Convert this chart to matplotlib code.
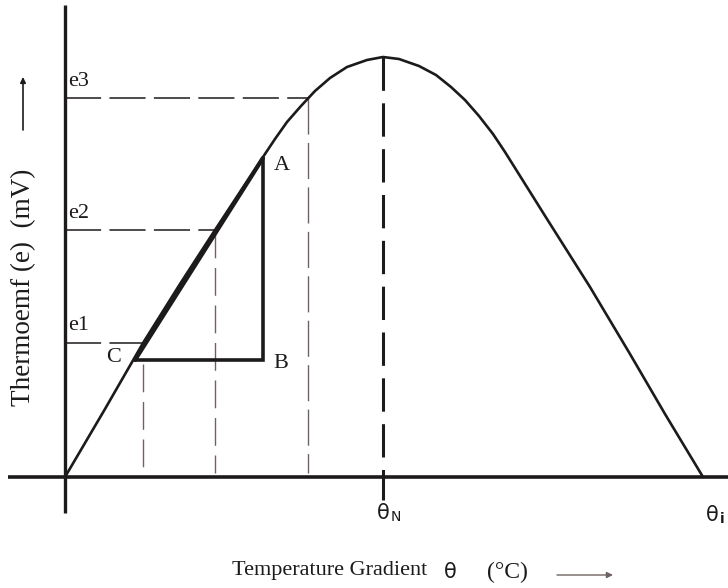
import matplotlib
matplotlib.use("Agg")
import matplotlib.pyplot as plt

plt.rcParams["font.family"] = ["Liberation Serif", "DejaVu Serif"]
plt.rcParams["lines.scale_dashes"] = False

# Thermo-emf curve: temperature gradient (theta) vs emf (e), arbitrary units
curve_theta = [0, 40, 78, 115, 150, 198, 210, 222, 236, 250, 265, 282, 302, 318,
               334, 354, 371, 386, 400, 414, 428, 440, 482, 525, 565, 600, 638]
curve_emf = [0, 68, 134, 193, 247, 320, 338, 355, 371, 386, 399, 410, 417, 420,
             418, 411, 402, 390, 377, 361, 343, 325, 258, 190, 123, 63, 0]

# Reference levels of emf and the temperatures where they are reached
emf_levels = [134, 247, 379]
emf_names = ["e1", "e2", "e3"]
theta_levels = [78, 150, 243]

# Tangent triangle A-B-C
theta_C, emf_C = 70, 117
theta_A, emf_A = 198, 319

# Neutral and inversion temperatures
theta_N = 318
emf_peak = 420
theta_i = 638

fig = plt.figure(figsize=(7.28, 5.88), dpi=100)
ax = fig.add_axes([0, 0, 1, 1])
ax.set_xlim(-65, 663)
ax.set_ylim(-111, 477)
ax.axis("off")

ink = "#1c1a1a"
soft = "#6e6262"
sans = ["DejaVu Sans"]

# axes
ax.plot([-57, 663], [0, 0], color=ink, lw=2.6, solid_capstyle="butt")
ax.plot([0, 0], [-36, 472], color=ink, lw=2.4, solid_capstyle="butt")

# emf levels: horizontal dashed guides and vertical drops
for lev, th, name in zip(emf_levels, theta_levels, emf_names):
    ax.plot([0, th], [lev, lev], color=ink, lw=1.1, dashes=(26, 6))
    ax.text(3, lev + 17, name, fontsize=16, color=ink, ha="left", va="center")
ax.plot([theta_levels[0]] * 2, [emf_C - 4, 4], color=soft, lw=1.0, dashes=(20, 7))
ax.plot([theta_levels[1]] * 2, [emf_levels[1], 4], color=soft, lw=1.0, dashes=(20, 7))
ax.plot([theta_levels[2]] * 2, [emf_levels[2], 4], color=soft, lw=1.0, dashes=(26, 6))

# neutral temperature marker
ax.plot([theta_N, theta_N], [emf_peak, -23], color=ink, lw=2.2, dashes=(24, 9))

# the curve
ax.plot(curve_theta, curve_emf, color=ink, lw=1.9, solid_capstyle="round",
        solid_joinstyle="round")

# tangent C-A and triangle legs
ax.plot([theta_C, theta_A], [emf_C, emf_A], color=ink, lw=3.0, solid_capstyle="round")
ax.plot([theta_A, theta_A, theta_C], [emf_A, emf_C, emf_C], color=ink, lw=2.6,
        solid_joinstyle="miter", solid_capstyle="butt")

ax.text(theta_A + 19, emf_A - 8, "A", fontsize=16, color=ink, ha="center", va="center")
ax.text(theta_A + 18, emf_C - 4, "B", fontsize=16, color=ink, ha="center", va="center")
ax.text(theta_C - 21, emf_C + 2, "C", fontsize=16, color=ink, ha="center", va="center")

# temperature marks on the axis
ax.text(theta_N + 7, -36, "θ", fontsize=15, color=ink, ha="right", va="center",
        family=sans)
ax.text(theta_N + 8, -40, "N", fontsize=10, color=ink, ha="left", va="center",
        family=sans)
ax.text(theta_i + 16, -38, "θ", fontsize=15, color=ink, ha="right", va="center",
        family=sans)
ax.text(theta_i + 17, -42, "i", fontsize=10, color=ink, ha="left", va="center",
        family=sans, fontweight="bold")

# axis titles with direction arrows
ax.text(167, -93, "Temperature Gradient", fontsize=16, color=ink, ha="left", va="center")
ax.text(385, -95, "θ", fontsize=15, color=ink, ha="center", va="center", family=sans)
ax.text(422, -95, "(°C)", fontsize=17, color=ink, ha="left", va="center")
ax.annotate("", xy=(548, -98), xytext=(492, -98),
            arrowprops=dict(arrowstyle="-|>", color=soft, lw=1.0,
                            mutation_scale=9, shrinkA=0, shrinkB=0))

ax.text(-41, 190, "Thermoemf (e)  (mV)", fontsize=19.5, color=ink, rotation=90,
        ha="center", va="center")
ax.annotate("", xy=(-42, 400), xytext=(-42, 347),
            arrowprops=dict(arrowstyle="-|>", color=ink, lw=1.2,
                            mutation_scale=8, shrinkA=0, shrinkB=0))

fig.savefig("out.png", dpi=100)
